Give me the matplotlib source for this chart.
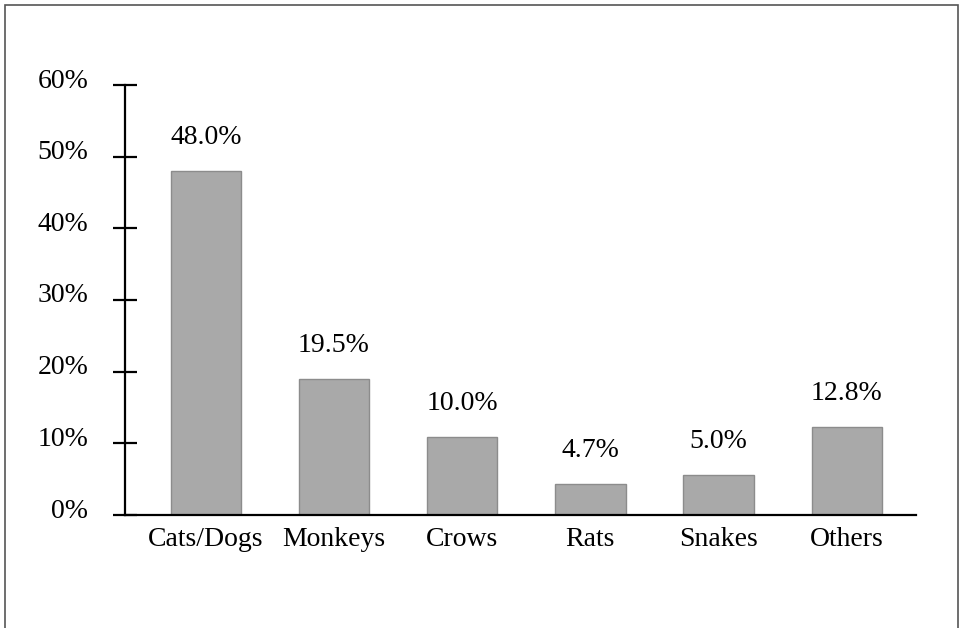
import matplotlib
matplotlib.use("Agg")
import matplotlib.pyplot as plt
import matplotlib.transforms as mtransforms
from matplotlib.patches import Rectangle
from matplotlib.ticker import FuncFormatter

# data
categories = ["Cats/Dogs", "Monkeys", "Crows", "Rats", "Snakes", "Others"]
bar_heights = [48.0, 19.0, 10.9, 4.3, 5.6, 12.3]   # bar tops as drawn
share_labels = ["48.0%", "19.5%", "10.0%", "4.7%", "5.0%", "12.8%"]
y_ticks = [0, 10, 20, 30, 40, 50, 60]

plt.rcParams["font.family"] = ["Liberation Serif", "DejaVu Serif"]

W, H = 964, 628
fig = plt.figure(figsize=(W / 100, H / 100), dpi=100)

# outer frame around the whole chart
fig.patches.append(Rectangle((5 / W, -0.02), 953 / W, 1.02 - 5 / H,
                             transform=fig.transFigure, fill=False,
                             edgecolor="#555555", linewidth=1.2))

ax = fig.add_axes([125 / W, (H - 515) / H, (916 - 125) / W, (515 - 85) / H])
x = range(len(categories))
ax.bar(x, bar_heights, width=0.55, color="#a9a9a9", edgecolor="#8c8c8c",
       linewidth=1)

for xi, h, lab in zip(x, bar_heights, share_labels):
    ax.annotate(lab, (xi, h), xytext=(0, 24), textcoords="offset points",
                ha="center", va="center", fontsize=20)

ax.set_xlim(-0.63, 5.54)
ax.set_ylim(0, 60)
ax.set_yticks(y_ticks)
ax.yaxis.set_major_formatter(FuncFormatter(lambda v, _: f"{v:.0f}%"))
ax.set_xticks(list(x))
ax.set_xticklabels(categories)

for side in ("top", "right"):
    ax.spines[side].set_visible(False)
for side in ("left", "bottom"):
    ax.spines[side].set_linewidth(1.6)
    ax.spines[side].set_color("black")

ax.tick_params(axis="y", direction="inout", length=17, width=1.6,
               labelsize=20, pad=18)
ax.tick_params(axis="x", length=0, labelsize=20, pad=9)

# tick labels sit a little above their tick marks in the original
shift = mtransforms.ScaledTranslation(0, 7 / 100, fig.dpi_scale_trans)
for lbl in ax.get_yticklabels():
    lbl.set_transform(lbl.get_transform() + shift)

fig.savefig("out.png", dpi=100)
